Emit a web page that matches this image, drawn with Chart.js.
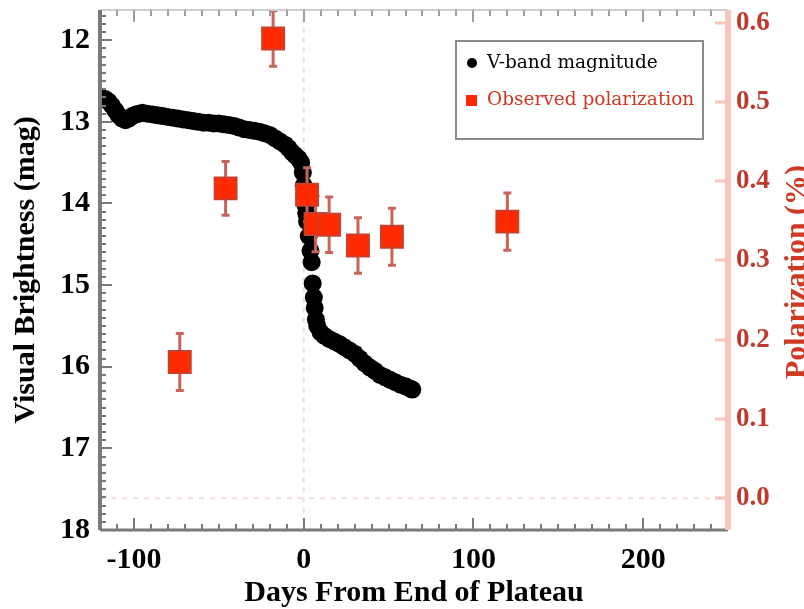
<!DOCTYPE html>
<html>
<head>
<meta charset="utf-8">
<script src="https://cdn.jsdelivr.net/npm/chart.js@4.4.1/dist/chart.umd.min.js"></script>
<style>
  html, body { margin: 0; padding: 0; background: #fff; }
  #wrap { width: 804px; height: 609px; }
</style>
</head>
<body>
<div id="wrap"><canvas id="snChart" width="804" height="609"></canvas></div>
<script>
// V-band light curve: days from end of plateau / magnitude
const vDays = [-119, -117, -115, -113, -111, -109, -107, -105, -103, -101, -99, -97, -95,
  -92, -89, -86, -83, -80, -77, -74, -71, -68, -65, -62, -59, -56, -53, -50, -47, -44, -41,
  -38, -35, -32, -29, -26, -23, -20, -17, -14, -11, -9, -7, -5, -3,
  -1.5, -0.5, 0, 0.5, 1, 1.5, 2, 3, 4, 4.7, 5.3, 6, 6.5, 7.2, 8, 10, 12,
  15, 18, 21, 24, 27, 30, 33, 36, 39, 42, 45, 48, 51, 54, 57, 60, 63, 64];
const vMags = [12.71, 12.72, 12.75, 12.80, 12.86, 12.92, 12.96, 12.98, 12.96, 12.93, 12.91, 12.90, 12.89,
  12.90, 12.91, 12.92, 12.93, 12.94, 12.95, 12.96, 12.97, 12.98, 12.99, 13.00, 13.01, 13.01, 13.02, 13.02, 13.03, 13.04, 13.05,
  13.07, 13.09, 13.10, 13.11, 13.12, 13.14, 13.16, 13.20, 13.24, 13.28, 13.32, 13.37, 13.41, 13.45,
  13.50, 13.62, 13.78, 13.92, 14.02, 14.12, 14.22, 14.40, 14.58, 14.72, 14.98, 15.15, 15.28, 15.42, 15.50, 15.58, 15.62,
  15.66, 15.69, 15.72, 15.76, 15.80, 15.84, 15.90, 15.96, 16.01, 16.05, 16.10, 16.13, 16.16, 16.19, 16.22, 16.24, 16.27, 16.28];

// polarization measurements (%) with 1-sigma errors
const polDays = [-73, -46, -18, 2, 7, 15, 32, 52, 120];
const polVals = [0.172, 0.391, 0.580, 0.383, 0.346, 0.345, 0.319, 0.330, 0.349];
const polErrs = [0.036, 0.034, 0.035, 0.034, 0.035, 0.035, 0.035, 0.036, 0.036];

const dayTicks = [-100, 0, 100, 200];
const magTicks = [12, 13, 14, 15, 16, 17, 18];
const polTicks = [0.0, 0.1, 0.2, 0.3, 0.4, 0.5, 0.6];

const RED = '#ff2a00';
const RED_DARK = '#c9402c';
const ERR = '#c8645a';
const PINK = '#f8c6be';
const serifBold = { family: "'Liberation Serif', 'Times New Roman', serif", weight: 'bold' };

const vPoints = vDays.map((d, i) => ({ x: d, y: vMags[i] }));
const polPoints = polDays.map((d, i) => ({ x: d, y: polVals[i] }));

// keep the plot box fixed: no label overhang padding
const noOverhang = s => { s.paddingTop = 0; s.paddingBottom = 0; s.paddingLeft = 0; s.paddingRight = 0; };

// error bars go between the light curve and the polarization squares
const errorBars = {
  id: 'errorBars',
  afterDatasetDraw(chart, args) {
    if (args.index !== 1) return;
    const { ctx } = chart;
    const xs = chart.scales.x, ys = chart.scales.y2;
    ctx.save();
    ctx.strokeStyle = ERR;
    ctx.lineWidth = 3;
    polDays.forEach((d, i) => {
      const x = xs.getPixelForValue(d);
      const y1 = ys.getPixelForValue(polVals[i] + polErrs[i]);
      const y2 = ys.getPixelForValue(polVals[i] - polErrs[i]);
      ctx.beginPath();
      ctx.moveTo(x, y1); ctx.lineTo(x, y2);
      ctx.moveTo(x - 4, y1); ctx.lineTo(x + 4, y1);
      ctx.moveTo(x - 4, y2); ctx.lineTo(x + 4, y2);
      ctx.stroke();
    });
    ctx.restore();
  }
};

// axis frame with inward tick marks
const frame = {
  id: 'frame',
  afterDatasetsDraw(chart) {
    const { ctx, chartArea: a } = chart;
    const xs = chart.scales.x, ys = chart.scales.y, ps = chart.scales.y2;
    ctx.save();
    // top and bottom
    ctx.strokeStyle = '#cfcfcf'; ctx.lineWidth = 2;
    ctx.beginPath(); ctx.moveTo(a.left, a.top); ctx.lineTo(a.right, a.top); ctx.stroke();
    ctx.strokeStyle = '#7a7a7a'; ctx.lineWidth = 3;
    ctx.beginPath(); ctx.moveTo(a.left, a.bottom); ctx.lineTo(a.right, a.bottom); ctx.stroke();
    ctx.lineWidth = 2;
    for (let d = -120; d <= 250; d += 10) {
      const x = Math.round(xs.getPixelForValue(d));
      const len = d % 100 === 0 ? 12 : 6;
      ctx.strokeStyle = '#7a7a7a';
      ctx.beginPath(); ctx.moveTo(x, a.bottom); ctx.lineTo(x, a.bottom - len); ctx.stroke();
      ctx.strokeStyle = '#a0a0a0';
      ctx.beginPath(); ctx.moveTo(x, a.top); ctx.lineTo(x, a.top + len); ctx.stroke();
    }
    // left magnitude axis
    ctx.strokeStyle = '#7a7a7a'; ctx.lineWidth = 4;
    ctx.beginPath(); ctx.moveTo(a.left, a.top); ctx.lineTo(a.left, a.bottom); ctx.stroke();
    ctx.lineWidth = 2;
    for (let i = 117; i <= 180; i++) {
      const y = Math.round(ys.getPixelForValue(i / 10));
      const len = i % 10 === 0 ? 12 : 6;
      ctx.beginPath(); ctx.moveTo(a.left, y); ctx.lineTo(a.left + len, y); ctx.stroke();
    }
    // right polarization axis
    ctx.strokeStyle = PINK; ctx.lineWidth = 6;
    ctx.beginPath(); ctx.moveTo(a.right, a.top); ctx.lineTo(a.right, a.bottom); ctx.stroke();
    ctx.lineWidth = 3;
    polTicks.forEach(v => {
      const y = Math.round(ps.getPixelForValue(v));
      ctx.beginPath(); ctx.moveTo(a.right, y); ctx.lineTo(a.right - 13, y); ctx.stroke();
    });
    ctx.restore();
  }
};

// boxed legend in the upper right and the right-hand axis title
const annotations = {
  id: 'annotations',
  afterDraw(chart) {
    const { ctx } = chart;
    ctx.save();
    ctx.strokeStyle = '#8a8a8a'; ctx.lineWidth = 2;
    ctx.strokeRect(456, 41, 247, 98);
    ctx.font = "18.5px 'DejaVu Serif', serif";
    ctx.textBaseline = 'middle';
    ctx.fillStyle = '#000';
    ctx.beginPath(); ctx.arc(472, 63, 5, 0, Math.PI * 2); ctx.fill();
    ctx.fillText('V-band magnitude', 487, 63);
    ctx.fillStyle = RED;
    ctx.fillRect(466, 95, 11, 11);
    ctx.fillStyle = '#d2361f';
    ctx.fillText('Observed polarization', 487, 100);

    ctx.translate(797, 272);
    ctx.rotate(-Math.PI / 2);
    ctx.font = "bold 30px 'Liberation Serif', serif";
    ctx.textAlign = 'center';
    ctx.fillStyle = '#cc3a24';
    ctx.fillText('Polarization (%)', 0, 0);
    ctx.restore();
  }
};

new Chart(document.getElementById('snChart'), {
  type: 'scatter',
  data: {
    datasets: [{
      label: 'Observed polarization',
      data: polPoints,
      yAxisID: 'y2',
      pointStyle: 'rect',
      pointRadius: 15.5,
      backgroundColor: RED,
      borderColor: RED_DARK,
      borderWidth: 2,
      clip: false,
      order: 0
    }, {
      label: 'V-band magnitude',
      data: vPoints,
      yAxisID: 'y',
      pointRadius: 9,
      backgroundColor: '#000',
      borderWidth: 0,
      order: 1
    }, {
      // day zero marker
      type: 'line',
      data: [{ x: 0, y: 11.6 }, { x: 0, y: 18 }],
      yAxisID: 'y',
      borderColor: '#e2e2e2',
      borderWidth: 2,
      borderDash: [5, 5],
      pointRadius: 0,
      order: 2
    }, {
      // zero polarization level
      type: 'line',
      data: [{ x: -120, y: 0 }, { x: 250, y: 0 }],
      yAxisID: 'y2',
      borderColor: '#f6dcd6',
      borderWidth: 2,
      borderDash: [5, 6],
      pointRadius: 0,
      order: 2
    }]
  },
  options: {
    responsive: false,
    animation: false,
    layout: { autoPadding: false, padding: { top: 10, left: 0, right: 0, bottom: 0 } },
    plugins: { legend: { display: false }, tooltip: { enabled: false } },
    scales: {
      x: {
        type: 'linear', position: 'bottom', min: -120, max: 250,
        afterBuildTicks: s => { s.ticks = dayTicks.map(v => ({ value: v })); },
        afterFit: s => { s.height = 79; noOverhang(s); },
        grid: { display: false, drawTicks: false },
        border: { display: false },
        ticks: { color: '#000', font: { ...serifBold, size: 30 }, padding: 12, maxRotation: 0, callback: v => v },
        title: { display: true, text: 'Days From End of Plateau', color: '#000',
          font: { ...serifBold, size: 30, lineHeight: 1 }, padding: { top: 0, bottom: 1 } }
      },
      y: {
        type: 'linear', position: 'left', reverse: true, min: 11.63, max: 18,
        afterBuildTicks: s => { s.ticks = magTicks.map(v => ({ value: v })); },
        afterFit: s => { s.width = 100; noOverhang(s); },
        grid: { display: false, drawTicks: false },
        border: { display: false },
        ticks: { color: '#000', font: { ...serifBold, size: 30 }, padding: 10, callback: v => v },
        title: { display: true, text: 'Visual Brightness (mag)', color: '#000',
          font: { ...serifBold, size: 30, lineHeight: 1 }, padding: { top: 11, bottom: 0 } }
      },
      y2: {
        type: 'linear', position: 'right', min: -0.04, max: 0.616,
        afterBuildTicks: s => { s.ticks = polTicks.map(v => ({ value: v })); },
        afterFit: s => { s.width = 76; noOverhang(s); },
        grid: { display: false, drawTicks: false },
        border: { display: false },
        ticks: { color: '#c0392b', font: { ...serifBold, size: 27 }, padding: 8, callback: v => v.toFixed(1) }
      }
    }
  },
  plugins: [errorBars, frame, annotations]
});
</script>
</body>
</html>
